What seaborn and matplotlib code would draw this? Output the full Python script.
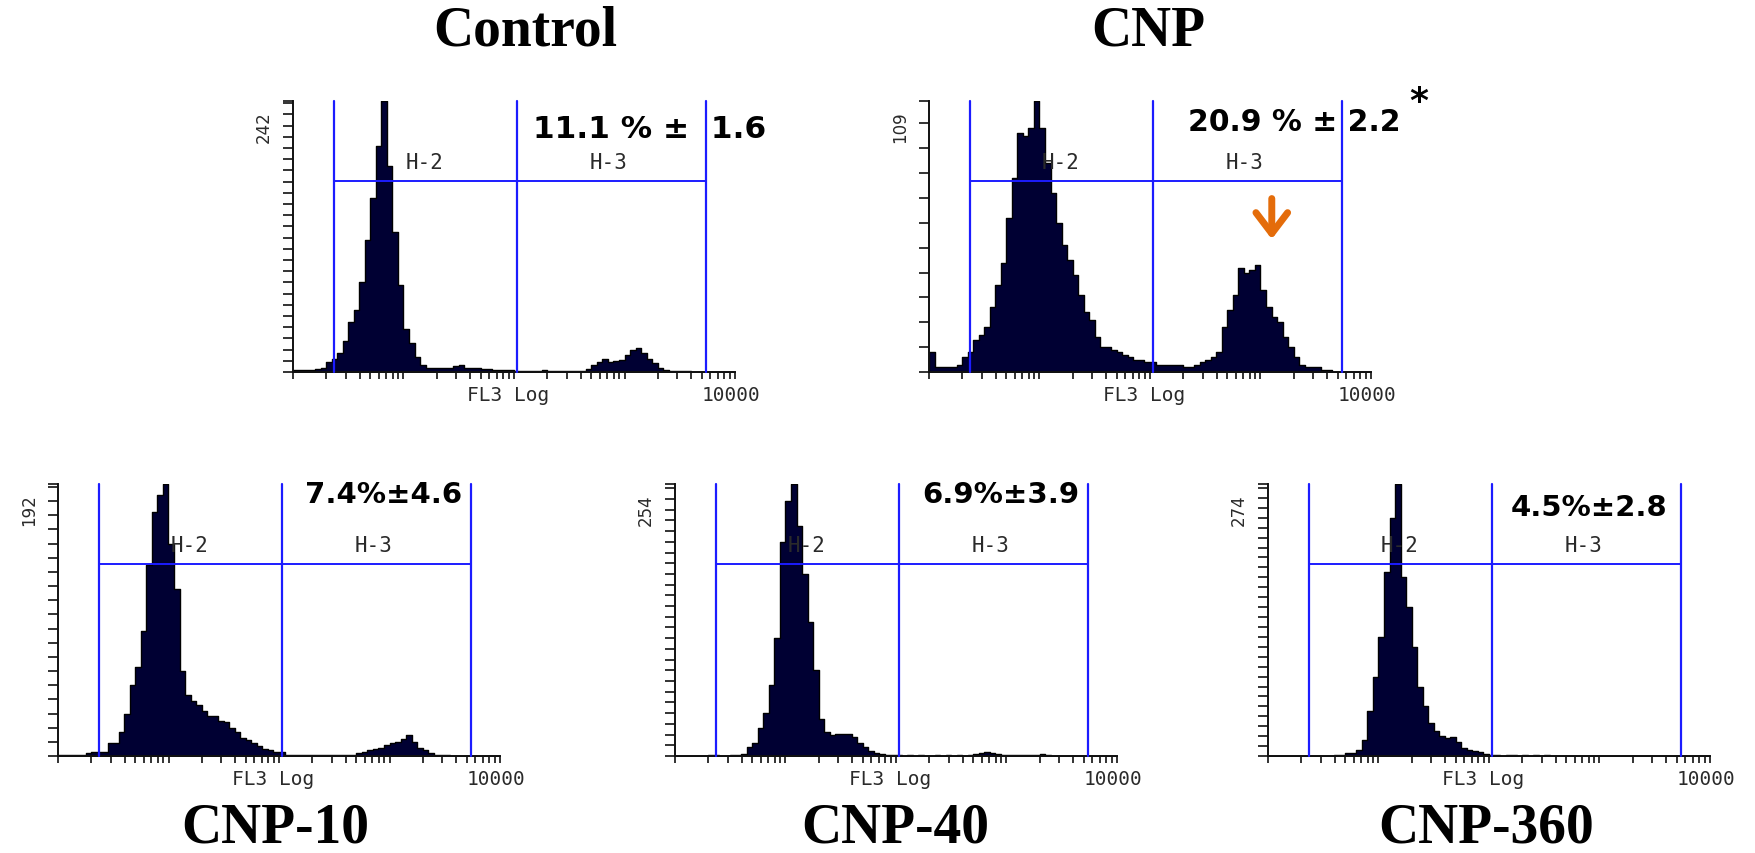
import numpy as np
import matplotlib
matplotlib.use("Agg")
import matplotlib.pyplot as plt
from matplotlib.ticker import LogLocator, NullFormatter
import seaborn as sns

# FL3 log channels: 80 bins of 0.05 decade over 1..10000
n_bins = 80
log_lo, log_hi = 0.0, 4.0

# counts per bin
control_counts = [2, 2, 2, 2, 3, 4, 9, 12, 17, 28,
                  45, 55, 80, 118, 155, 202, 242, 184, 125, 78,
                  38, 26, 13, 6, 4, 4, 4, 4, 4, 5,
                  6, 4, 4, 4, 3, 3, 2, 2, 2, 2,
                  1, 1, 1, 1, 1, 2, 1, 1, 1, 1,
                  1, 1, 1, 3, 6, 9, 12, 9, 10, 11,
                  15, 20, 21, 17, 12, 8, 4, 2, 1, 1,
                  1, 1, 0, 0, 0, 0, 0, 0, 0, 0]
cnp_counts = [8, 2, 2, 2, 2, 3, 6, 8, 13, 15,
              18, 26, 35, 44, 62, 78, 96, 95, 98, 109,
              98, 84, 72, 60, 51, 45, 39, 31, 24, 21,
              14, 10, 10, 9, 8, 7, 6, 5, 5, 4,
              4, 3, 3, 3, 3, 3, 2, 2, 3, 4,
              5, 6, 8, 18, 25, 31, 42, 40, 41, 43,
              33, 26, 22, 20, 14, 10, 6, 3, 2, 2,
              2, 1, 1, 0, 0, 0, 0, 0, 0, 0]
cnp10_counts = [1, 1, 1, 1, 1, 2, 3, 3, 3, 9,
                9, 17, 30, 50, 63, 88, 135, 172, 184, 192,
                150, 118, 60, 43, 39, 36, 32, 28, 28, 25,
                24, 20, 17, 13, 11, 9, 7, 5, 4, 3,
                3, 1, 1, 1, 1, 1, 1, 1, 1, 1,
                1, 1, 1, 1, 2, 3, 4, 5, 6, 8,
                9, 10, 12, 15, 10, 6, 4, 2, 1, 1,
                1, 0, 0, 0, 0, 0, 0, 0, 0, 0]
cnp40_counts = [0, 0, 0, 0, 0, 0, 1, 1, 0, 0,
                1, 1, 2, 8, 12, 26, 40, 66, 110, 200,
                238, 254, 215, 170, 125, 80, 35, 22, 20, 21,
                21, 21, 18, 12, 8, 5, 3, 2, 1, 1,
                1, 0, 1, 0, 1, 0, 0, 1, 0, 1,
                0, 1, 0, 1, 2, 3, 4, 3, 2, 1,
                1, 1, 1, 1, 1, 1, 2, 1, 0, 0,
                0, 0, 0, 0, 0, 0, 0, 0, 0, 0]
cnp360_counts = [0, 0, 0, 0, 0, 0, 0, 0, 0, 0,
                 0, 0, 1, 1, 3, 3, 6, 16, 45, 80,
                 120, 185, 240, 274, 180, 150, 110, 70, 50, 33,
                 25, 20, 18, 19, 14, 8, 6, 5, 4, 2,
                 1, 1, 0, 1, 1, 0, 1, 0, 1, 0,
                 1, 0, 0, 0, 0, 0, 0, 0, 0, 0,
                 0, 0, 0, 0, 0, 0, 0, 0, 0, 0,
                 0, 0, 0, 0, 0, 0, 0, 0, 0, 0]

titles = ["Control", "CNP", "CNP-10", "CNP-40", "CNP-360"]
y_max = [242, 109, 192, 254, 274]
stats_text = ["11.1 % \u00b1  1.6", "20.9 % \u00b1 2.2", "7.4%\u00b14.6", "6.9%\u00b13.9", "4.5%\u00b12.8"]
gates = [2.34, 107, 5500]   # H-2 / H-3 marker limits

sns.set_style("white")
plt.rcParams['font.family'] = ['DejaVu Sans']
plt.rcParams['text.color'] = 'black'

W, H = 1756, 854
fig = plt.figure(figsize=(W / 100, H / 100), dpi=100)

# axes boxes in pixels: left, baseline, top
boxes = [(293, 373, 102), (929, 373, 102), (58, 757, 485), (675, 757, 485), (1268, 757, 485)]
ax_w = 442
# stats text position (axes fraction, left edge / vertical centre)
stat_pos = [(0.543, 0.897), (0.585, 0.926), (0.559, 0.963), (0.559, 0.963), (0.55, 0.915)]
stat_size = [22.5, 21.5, 21, 21, 21]
# titles in pixels (centre x, centre y)
title_pos = [(525, 31), (1148, 31), (275, 829), (895, 829), (1486, 829)]

all_counts = [control_counts, cnp_counts, cnp10_counts, cnp40_counts, cnp360_counts]
edges = np.linspace(log_lo, log_hi, n_bins + 1)
centers = 10 ** ((edges[:-1] + edges[1:]) / 2)

gate_blue = '#1c1cff'
gray_txt = '#2a2a2a'

for k in range(5):
    left, base, top = boxes[k]
    ax = fig.add_axes([left / W, (H - base) / H, ax_w / W, (base - top) / H])
    sns.histplot(x=centers, weights=all_counts[k], bins=n_bins, binrange=(log_lo, log_hi),
                 log_scale=True, element='step', fill=True, color='#000033',
                 edgecolor='black', linewidth=1.0, alpha=1, ax=ax)
    ax.set_xlim(1, 10000)
    ax.set_ylim(0, y_max[k])
    ax.set_xlabel('')
    ax.set_ylabel('')

    ax.xaxis.set_major_locator(LogLocator(base=10))
    ax.xaxis.set_minor_locator(LogLocator(base=10, subs=np.arange(2, 10)))
    ax.xaxis.set_major_formatter(NullFormatter())
    ax.xaxis.set_minor_formatter(NullFormatter())
    ax.set_yticks(list(range(0, y_max[k], 10)) + [y_max[k]])
    ax.set_yticklabels([])
    ax.tick_params(axis='x', which='both', direction='out', length=5, width=1.2, color='#111111', bottom=True)
    ax.tick_params(axis='y', direction='out', length=7, width=1.2, color='#111111', left=True)
    sns.despine(ax=ax)
    for s in ['left', 'bottom']:
        ax.spines[s].set_linewidth(1.4)
        ax.spines[s].set_color('#111111')

    # markers H-2 and H-3
    h_y = 0.705 * y_max[k]
    for g in gates:
        ax.plot([g, g], [0, y_max[k]], color=gate_blue, lw=1.6, zorder=5, clip_on=False)
    ax.plot([gates[0], gates[2]], [h_y, h_y], color=gate_blue, lw=1.4, zorder=5)
    ax.text(15.4, 0.775 * y_max[k], 'H-2', family='DejaVu Sans Mono', fontsize=15,
            color=gray_txt, ha='center', va='center', zorder=6)
    ax.text(713, 0.775 * y_max[k], 'H-3', family='DejaVu Sans Mono', fontsize=15,
            color=gray_txt, ha='center', va='center', zorder=6)

    ax.text(0.487, -0.083, 'FL3 Log', transform=ax.transAxes, family='DejaVu Sans Mono',
            fontsize=14, color=gray_txt, ha='center', va='center')
    ax.text(0.99, -0.083, '10000', transform=ax.transAxes, family='DejaVu Sans Mono',
            fontsize=14, color=gray_txt, ha='center', va='center')
    ax.annotate(str(y_max[k]), xy=(0, 1), xycoords='axes fraction', xytext=(-21, -7),
                textcoords='offset points', rotation=90, ha='center', va='top',
                fontsize=12, color=gray_txt)

    sx, sy = stat_pos[k]
    ax.text(sx, sy, stats_text[k], transform=ax.transAxes, fontsize=stat_size[k], fontweight='bold',
            color='black', ha='left', va='center', zorder=7, clip_on=False)

    tx, ty = title_pos[k]
    fig.text(tx / W, 1 - ty / H, titles[k], family='Liberation Serif', fontweight='bold',
             fontsize=40, color='black', ha='center', va='center')

    if k == 1:
        # significance star and arrow on the CNP panel
        ax.text(1.108, 1.0, '*', transform=ax.transAxes, fontsize=26, fontweight='bold',
                color='black', ha='center', va='center', clip_on=False)
        ax.annotate('', xy=(1265, 0.49), xycoords=('data', 'axes fraction'),
                    xytext=(1265, 0.64), textcoords=('data', 'axes fraction'),
                    arrowprops=dict(arrowstyle='->, head_length=0.5, head_width=0.38',
                                    color='#e46c0a', lw=5, mutation_scale=30,
                                    shrinkA=0, shrinkB=0))

fig.savefig('out.png', dpi=100)
